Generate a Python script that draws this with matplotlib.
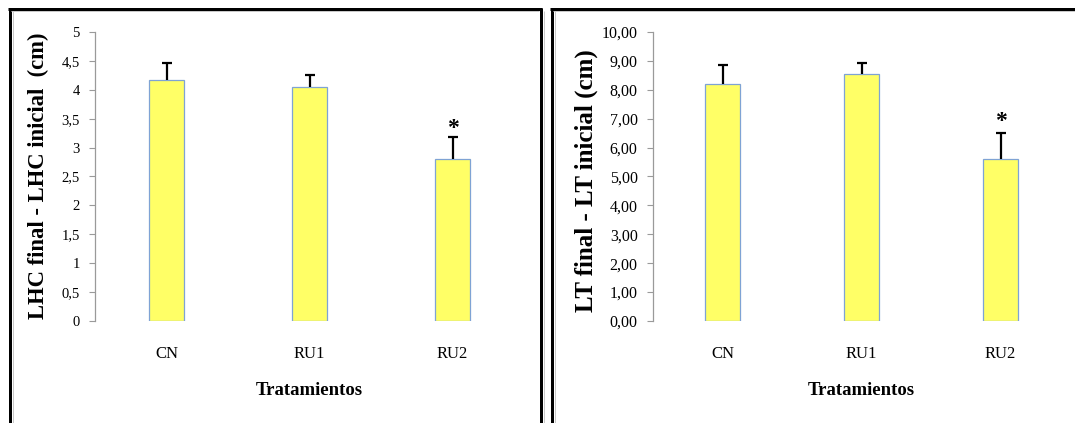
import matplotlib
matplotlib.use("Agg")
import matplotlib.pyplot as plt
from matplotlib.lines import Line2D

# Treatment groups
categories = ["CN", "RU1", "RU2"]

# Head-length gain (LHC final - LHC inicial), cm
lhc_means = [4.17, 4.05, 2.80]
lhc_err = [0.29, 0.21, 0.38]
lhc_ticks = [0, 0.5, 1, 1.5, 2, 2.5, 3, 3.5, 4, 4.5, 5]
lhc_ticklabels = ["0", "0,5", "1", "1,5", "2", "2,5", "3", "3,5", "4", "4,5", "5"]

# Total-length gain (LT final - LT inicial), cm
lt_means = [8.21, 8.55, 5.62]
lt_err = [0.65, 0.38, 0.90]
lt_ticks = list(range(0, 11))
lt_ticklabels = ["0,00", "1,00", "2,00", "3,00", "4,00", "5,00",
                 "6,00", "7,00", "8,00", "9,00", "10,00"]

# Significance marks per group
signif = ["", "", "*"]

W, H = 1075, 423
fig = plt.figure(figsize=(W / 100, H / 100), dpi=100)
fig.patch.set_facecolor("white")

SERIF = "Liberation Serif"
BAR_FACE = "#ffff66"
BAR_EDGE = "#7fa3d4"
AXIS_GRAY = "#9a9a9a"


def px_axes(x0, x1, ytop, ybot):
    return fig.add_axes([x0 / W, (H - ybot) / H, (x1 - x0) / W, (ybot - ytop) / H])


def draw_panel(ax, means, errs, ticks, ticklabels, ymax, ylabel,
               tick_fs, ylab_fs, ylab_x, ylab_y, star_off):
    x = list(range(len(categories)))
    ax.bar(x, means, width=0.25, color=BAR_FACE, edgecolor=BAR_EDGE,
           linewidth=0.9, zorder=2)
    # upper-only error bars: hide the cap that would sit on the bar top
    _, caps, _ = ax.errorbar(x, means, yerr=[[0] * len(errs), errs],
                             fmt="none", ecolor="black", elinewidth=1.6,
                             capsize=3.5, capthick=1.6, zorder=3)
    caps[0].set_visible(False)
    for xi, m, e, s in zip(x, means, errs, signif):
        if s:
            ax.annotate(s, (xi, m + e), xytext=(0, star_off),
                        textcoords="offset points", ha="center", va="center",
                        fontsize=17, fontweight="bold", family=SERIF)
    ax.set_xlim(-0.5, len(categories) - 0.5)
    ax.set_ylim(0, ymax)
    ax.set_yticks(ticks)
    ax.set_yticklabels(ticklabels, family=SERIF, fontsize=tick_fs)
    ax.set_xticks(x)
    ax.set_xticklabels(categories, family=SERIF, fontsize=12)
    ax.tick_params(axis="x", length=0, pad=18)
    ax.tick_params(axis="y", direction="out", length=4, width=0.8,
                   color=AXIS_GRAY, pad=7)
    for side in ("top", "right", "bottom"):
        ax.spines[side].set_visible(False)
    ax.spines["left"].set_color(AXIS_GRAY)
    ax.spines["left"].set_linewidth(0.9)
    ax.set_facecolor("none")
    ax.set_xlabel("Tratamientos", family=SERIF, fontsize=13.5,
                  fontweight="bold", va="center")
    ax.xaxis.set_label_coords(0.5, -0.242)
    ax.set_ylabel(ylabel, family=SERIF, fontsize=ylab_fs, fontweight="bold",
                  va="center", ha="center")
    ax.yaxis.set_label_coords(ylab_x, ylab_y)


ax1 = px_axes(95, 524, 32, 321)
draw_panel(ax1, lhc_means, lhc_err, lhc_ticks, lhc_ticklabels, 5,
           "LHC final - LHC inicial  (cm)", 10.5, 16.3, -0.131, 0.502, 6.5)

ax2 = px_axes(653, 1070, 32, 321)
draw_panel(ax2, lt_means, lt_err, lt_ticks, lt_ticklabels, 10,
           "LT final - LT inicial (cm)", 11.5, 18, -0.159, 0.484, 8)


# Black frames around the two panels
def fig_line(xs, ys, lw_px, color="black"):
    fig.add_artist(Line2D([v / W for v in xs], [(H - v) / H for v in ys],
                          color=color, linewidth=lw_px * 0.72,
                          solid_capstyle="butt"))


FRAME = 3
fig_line([9.5, 9.5], [8, H], FRAME)
fig_line([8, 542], [9.5, 9.5], FRAME)
fig_line([540.5, 540.5], [8, H], FRAME)
fig_line([551.5, 551.5], [8, H], FRAME)
fig_line([550, W], [9.5, 9.5], FRAME)
for gx in (12.5, 543.5, 554.5):
    fig_line([gx, gx], [11, H], 1, color="#c8c8c8")
fig_line([11, 539], [11.5, 11.5], 1, color="#c8c8c8")
fig_line([553, W], [11.5, 11.5], 1, color="#c8c8c8")

fig.savefig("out.png", dpi=100)
